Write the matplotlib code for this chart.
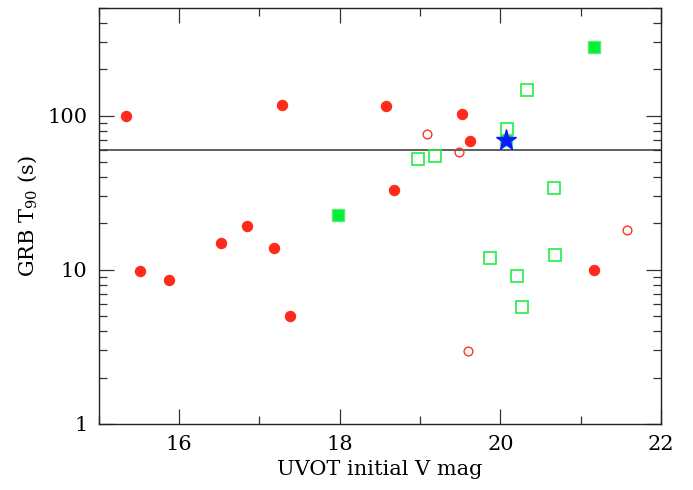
import numpy as np
import matplotlib
matplotlib.use('Agg')
import matplotlib.pyplot as plt
from matplotlib.ticker import FixedLocator, LogLocator, NullFormatter

plt.rcParams['font.family'] = ['DejaVu Serif']
plt.rcParams['mathtext.fontset'] = 'dejavuserif'

# filled red circles
red_x = [15.34, 15.52, 15.87, 16.52, 16.84, 17.18, 17.28, 17.38, 18.58, 18.68, 19.52, 19.62, 21.17]
red_y = [100, 9.8, 8.6, 15.0, 19.3, 13.8, 117, 5.0, 116, 33, 102.6, 68.4, 10.0]
# open red circles
ored_x = [19.08, 19.48, 21.57, 19.60]
ored_y = [76.3, 58.3, 18.1, 2.99]
# open green squares
ogrn_x = [20.33, 20.08, 18.98, 19.19, 20.67, 19.87, 20.68, 20.21, 20.27]
ogrn_y = [147.7, 81.4, 52.2, 55.1, 34.1, 12.0, 12.4, 9.1, 5.7]
# filled green squares
grn_x = [21.17, 17.98, 20.07]
grn_y = [279, 22.6, 69.8]
# star
star_x = [20.07]
star_y = [69.8]
t90_cut = 60

fig = plt.figure(figsize=(6.93, 4.9), dpi=100)
ax = fig.add_axes([0.1424, 0.1347, 0.8116, 0.849])

ax.axhline(t90_cut, color='#444444', lw=1.2, zorder=1)
ax.plot(ogrn_x, ogrn_y, 's', ms=9.2, mfc='none', mec='#22ee44', mew=1.2, zorder=2)
ax.plot(grn_x, grn_y, 's', ms=9.2, mfc='#00ee33', mec='#55ee77', mew=1.0, zorder=3)
ax.plot(red_x, red_y, 'o', ms=7.2, mfc='#ff2a1a', mec='#ff2a1a', zorder=4)
ax.plot(ored_x, ored_y, 'o', ms=6.3, mfc='none', mec='#ff3322', mew=1.0, zorder=4)
ax.plot(star_x, star_y, '*', ms=15.5, mfc='#0a1aff', mec='#0a1aff', zorder=5)

ax.set_yscale('log')
ax.set_xlim(15, 22)
ax.set_ylim(1, 500)
ax.xaxis.set_major_locator(FixedLocator([16, 18, 20, 22]))
ax.xaxis.set_minor_locator(FixedLocator([15, 17, 19, 21]))
ax.set_yticks([1, 10, 100])
ax.set_yticklabels(['1', '10', '100'])
ax.yaxis.set_minor_locator(LogLocator(base=10, subs=np.arange(2, 10)))
ax.yaxis.set_minor_formatter(NullFormatter())

ax.tick_params(which='both', direction='in', top=True, right=True, labelsize=15, width=0.9, color='#333333')
ax.tick_params(which='major', length=11, pad=8)
ax.tick_params(which='minor', length=6)
for s in ax.spines.values():
    s.set_linewidth(1.0)
    s.set_color('#222222')

ax.set_xlabel('UVOT initial V mag', fontsize=15)
ax.set_ylabel('GRB T$_{90}$ (s)', fontsize=15, labelpad=6)

fig.savefig('out.png', dpi=100)
